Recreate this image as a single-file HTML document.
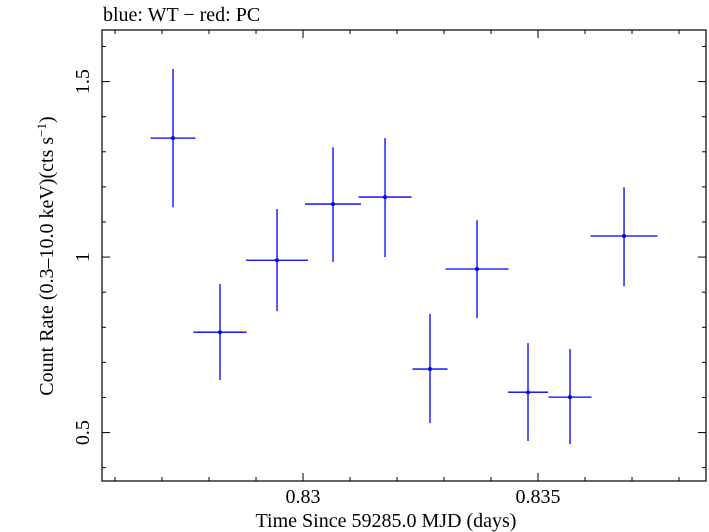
<!DOCTYPE html>
<html><head><meta charset="utf-8"><style>
body{margin:0;background:#fff;}
svg{display:block;font-family:"Liberation Serif",serif;}
</style></head><body>
<svg id="chart" width="709" height="532" viewBox="0 0 709 532" xmlns="http://www.w3.org/2000/svg">
<text x="103" y="21" font-size="20">blue: WT − red: PC</text>
<rect x="102" y="30" width="604" height="451" fill="none" stroke="#000" stroke-width="1.2"/>
<g id="ticks"></g>
<g id="marks"></g>
<text x="386" y="527" font-size="20" text-anchor="middle">Time Since 59285.0 MJD (days)</text>
<text transform="translate(53,256) rotate(-90)" font-size="20" text-anchor="middle">Count Rate (0.3–10.0 keV)(cts s<tspan dy="-7" font-size="13">−1</tspan><tspan dy="7">)</tspan></text>
</svg>
<script>
const times=[0.827234,0.828234,0.829447,0.830638,0.831745,0.832702,0.833702,0.834787,0.835681,0.836830];
const timeErr=[0.000479,0.000564,0.000660,0.000596,0.000564,0.000372,0.000670,0.000426,0.000457,0.000713];
const rates=[1.339,0.786,0.991,1.151,1.171,0.681,0.966,0.615,0.601,1.060];
const rateHi=[1.536,0.923,1.137,1.313,1.339,0.838,1.105,0.755,0.738,1.199];
const rateLo=[1.142,0.650,0.846,0.986,1.000,0.527,0.826,0.476,0.467,0.917];
const xTickLabels=["0.83","0.835"];
const yTickLabels=["0.5","1","1.5"];
const L=102,R=706,T=30,B=481;
const xMin=0.825723,xMax=0.838574,yMin=0.362,yMax=1.647;
const X=v=>L+(v-xMin)/(xMax-xMin)*(R-L);
const Y=v=>B-(v-yMin)/(yMax-yMin)*(B-T);
const NS="http://www.w3.org/2000/svg";
function mk(tag,attrs,parent){const e=document.createElementNS(NS,tag);for(const k in attrs)e.setAttribute(k,attrs[k]);parent.appendChild(e);return e;}
const tg=document.getElementById('ticks'),mg=document.getElementById('marks');
for(let i=826;i<=838;i++){const v=i/1000,x=X(v),major=(i%5===0),len=major?8:4;
 let t=mk('line',{x1:x,x2:x,y1:B,y2:B-len,stroke:'#000'},tg);
 
 
 t=mk('line',{x1:x,x2:x,y1:T,y2:T+len,stroke:'#000'},tg);
 
 }
xTickLabels.forEach(s=>{const t=mk('text',{x:X(parseFloat(s)),y:B+22,'font-size':20,'text-anchor':'middle'},tg);t.textContent=s;
 
 });
for(let i=4;i<=16;i++){const v=i/10,y=Y(v),major=(i%5===0),len=major?8:4;
 let t=mk('line',{x1:L,x2:L+len,y1:y,y2:y,stroke:'#000'},tg);
 
 
 t=mk('line',{x1:R,x2:R-len,y1:y,y2:y,stroke:'#000'},tg);
 
 }
yTickLabels.forEach(s=>{const y=Y(parseFloat(s));const t=mk('text',{transform:`translate(89,${y}) rotate(-90)`,'font-size':20,'text-anchor':'middle'},tg);t.textContent=s;
 
 });
times.forEach((tv,i)=>{const g=mk('g',{},mg);
 
 
 mk('line',{x1:X(tv-timeErr[i]),x2:X(tv+timeErr[i]),y1:Y(rates[i]),y2:Y(rates[i]),stroke:'#0000ee','stroke-width':1.3},g);
 mk('line',{x1:X(tv),x2:X(tv),y1:Y(rateLo[i]),y2:Y(rateHi[i]),stroke:'#0000ee','stroke-width':1.3},g);
 mk('circle',{cx:X(tv),cy:Y(rates[i]),r:2,fill:'#0000ee'},g);});
</script>
</body></html>
